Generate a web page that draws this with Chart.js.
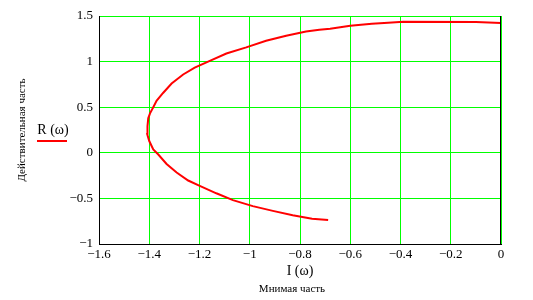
<!DOCTYPE html>
<html>
<head>
<meta charset="utf-8">
<script src="https://cdn.jsdelivr.net/npm/chart.js@4/dist/chart.umd.min.js"></script>
<style>
  html, body { margin: 0; padding: 0; background: #fff; }
  #wrap { width: 533px; height: 300px; }
</style>
</head>
<body>
<div id="wrap"><canvas id="c"></canvas></div>
<script>
// curve: imaginary part (x) vs real part (y)
const imagPart = [-0.688, -0.752, -0.829, -0.908, -0.988, -1.067, -1.133, -1.199, -1.245, -1.291,
  -1.331, -1.364, -1.384, -1.4, -1.408, -1.407, -1.404, -1.397, -1.384, -1.371, -1.345, -1.311,
  -1.265, -1.219, -1.159, -1.093, -1.014, -0.935, -0.855, -0.776, -0.723, -0.68, -0.6, -0.514,
  -0.449, -0.389, -0.1, 0];
const realPart = [-0.737, -0.722, -0.685, -0.637, -0.585, -0.519, -0.444, -0.363, -0.304, -0.216,
  -0.122, -0.019, 0.037, 0.129, 0.203, 0.29, 0.378, 0.433, 0.5, 0.57, 0.656, 0.759,
  0.859, 0.933, 1.007, 1.089, 1.156, 1.229, 1.284, 1.329, 1.348, 1.361, 1.394, 1.416,
  1.427, 1.437, 1.434, 1.423];

const xTicks = [-1.6, -1.4, -1.2, -1, -0.8, -0.6, -0.4, -0.2, 0];
const yTicks = [-1, -0.5, 0, 0.5, 1, 1.5];

const seriesName = "R (ω)";
const xName = "I (ω)";
const xTitle = "Мнимая часть";
const yTitle = "Действительная часть";

const serif = "'Liberation Serif', 'Times New Roman', serif";
const fmt = v => String(v).replace("-", "\u2212");

const points = imagPart.map((x, i) => ({ x: x, y: realPart[i] }));

// right edge of the frame, axis names and the little legend on the left
const extras = {
  id: "extras",
  afterDraw(chart) {
    const ctx = chart.ctx;
    const a = chart.chartArea;
    ctx.save();
    ctx.strokeStyle = "#000";
    ctx.lineWidth = 1;
    ctx.beginPath();
    ctx.moveTo(a.right - 0.5, a.top);
    ctx.lineTo(a.right - 0.5, a.bottom);
    ctx.stroke();

    ctx.fillStyle = "#000";
    ctx.textAlign = "center";
    ctx.textBaseline = "middle";
    ctx.font = "14px " + serif;
    ctx.fillText(xName, 300, 271);
    ctx.font = "11px " + serif;
    ctx.fillText(xTitle, 292, 289);

    ctx.save();
    ctx.translate(22, 130);
    ctx.rotate(-Math.PI / 2);
    ctx.fillText(yTitle, 0, 0);
    ctx.restore();

    ctx.font = "14px " + serif;
    ctx.fillText(seriesName, 53, 130);
    ctx.strokeStyle = "#ff0000";
    ctx.lineWidth = 2;
    ctx.beginPath();
    ctx.moveTo(37, 141);
    ctx.lineTo(67, 141);
    ctx.stroke();
    ctx.restore();
  }
};

new Chart(document.getElementById("c"), {
  type: "scatter",
  data: {
    datasets: [{
      label: seriesName,
      data: points,
      showLine: true,
      borderColor: "#ff0000",
      borderWidth: 2,
      pointRadius: 0,
      tension: 0
    }]
  },
  options: {
    responsive: true,
    maintainAspectRatio: false,
    animation: false,
    layout: { padding: { left: 0, right: 32, top: 16, bottom: 0 } },
    plugins: { legend: { display: false }, tooltip: { enabled: false } },
    scales: {
      x: {
        type: "linear",
        min: -1.6,
        max: 0,
        afterBuildTicks: s => { s.ticks = xTicks.map(v => ({ value: v })); },
        afterFit: s => { s.height = 56; },
        grid: { color: "#00ff00", lineWidth: 1, drawTicks: false },
        border: { color: "#000" },
        ticks: { color: "#000", font: { family: serif, size: 13 }, padding: 3, maxRotation: 0,
          callback: v => fmt(v) }
      },
      y: {
        type: "linear",
        min: -1,
        max: 1.5,
        afterBuildTicks: s => { s.ticks = yTicks.map(v => ({ value: v })); },
        afterFit: s => { s.width = 99; },
        grid: { color: "#00ff00", lineWidth: 1, drawTicks: false },
        border: { color: "#000" },
        ticks: { color: "#000", font: { family: serif, size: 13 }, padding: 6,
          callback: v => fmt(v) }
      }
    }
  },
  plugins: [extras]
});
</script>
</body>
</html>
